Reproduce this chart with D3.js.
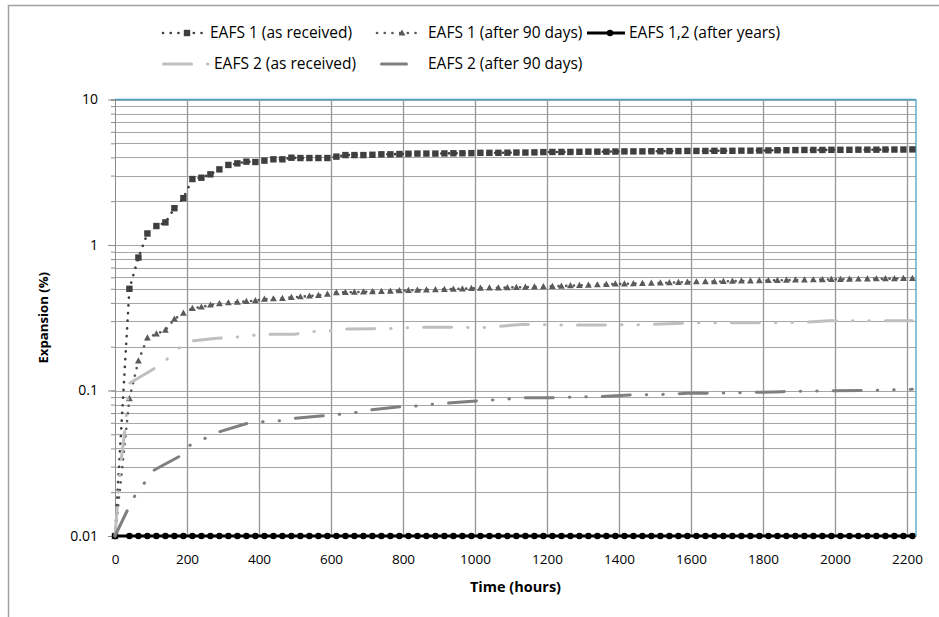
<!DOCTYPE html>
<html><head><meta charset="utf-8">
<script src="https://cdn.jsdelivr.net/npm/d3@7"></script>
<style>
body{margin:0;background:#fff}
svg{display:block}
text{font-family:"Open Sans",Lato,sans-serif;fill:#000}
</style>
</head><body>
<svg id="c" width="939" height="617"></svg>
<script>
// ---------------- DATA ----------------
const seriesNames = ["EAFS 1 (as received)", "EAFS 1 (after 90 days)", "EAFS 1,2 (after years)", "EAFS 2 (as received)", "EAFS 2 (after 90 days)"];
const xAxisTitle = "Time (hours)";
const yAxisTitle = "Expansion (%)";
const xTickValues = [0, 200, 400, 600, 800, 1000, 1200, 1400, 1600, 1800, 2000, 2200];
const xTickLabels = ["0", "200", "400", "600", "800", "1000", "1200", "1400", "1600", "1800", "2000", "2200"];
const yTickValues = [0.01, 0.1, 1, 10];
const yTickLabels = ["0.01", "0.1", "1", "10"];

// measurement times (hours) for the marked series
const hours = [0, 40, 65, 90, 115, 140, 165, 190, 215, 240, 265, 290, 315, 340, 365, 390, 415, 440, 465, 490, 515, 540, 565, 590, 615, 640,
  665, 690, 715, 740, 765, 790, 815, 840, 865, 890, 915, 940, 965, 990, 1015, 1040, 1065, 1090, 1115, 1140, 1165, 1190, 1215, 1240,
  1265, 1290, 1315, 1340, 1365, 1390, 1415, 1440, 1465, 1490, 1515, 1540, 1565, 1590, 1615, 1640, 1665, 1690, 1715, 1740, 1765, 1790,
  1815, 1840, 1865, 1890, 1915, 1940, 1965, 1990, 2015, 2040, 2065, 2090, 2115, 2140, 2165, 2190, 2215];

const eafs1AsReceived = [0.01, 0.5, 0.82, 1.2, 1.35, 1.43, 1.79, 2.1, 2.84, 2.9, 3.06, 3.31, 3.55, 3.64, 3.74, 3.72, 3.8, 3.88, 3.88, 3.98, 3.96, 3.96, 3.96, 3.96, 4.05, 4.15,
  4.15, 4.15, 4.17, 4.2, 4.2, 4.22, 4.24, 4.25, 4.25, 4.25, 4.26, 4.27, 4.27, 4.28, 4.3, 4.3, 4.3, 4.31, 4.32, 4.32, 4.33, 4.35, 4.36, 4.36,
  4.36, 4.37, 4.38, 4.38, 4.38, 4.39, 4.4, 4.4, 4.4, 4.41, 4.41, 4.42, 4.42, 4.43, 4.43, 4.43, 4.44, 4.44, 4.44, 4.45, 4.45, 4.46,
  4.47, 4.48, 4.48, 4.49, 4.5, 4.5, 4.5, 4.51, 4.51, 4.51, 4.52, 4.52, 4.52, 4.53, 4.53, 4.53, 4.54];

const eafs1After90 = [0.01, 0.088, 0.16, 0.23, 0.245, 0.26, 0.31, 0.34, 0.367, 0.375, 0.387, 0.395, 0.401, 0.405, 0.41, 0.415, 0.424, 0.427, 0.43, 0.436, 0.441, 0.446, 0.451, 0.46, 0.47, 0.473,
  0.474, 0.476, 0.478, 0.48, 0.482, 0.485, 0.488, 0.49, 0.492, 0.494, 0.496, 0.498, 0.5, 0.503, 0.506, 0.507, 0.508, 0.51, 0.512, 0.514, 0.516, 0.518, 0.52, 0.522,
  0.525, 0.528, 0.53, 0.533, 0.536, 0.54, 0.541, 0.543, 0.545, 0.547, 0.549, 0.551, 0.553, 0.556, 0.559, 0.56, 0.561, 0.562, 0.564, 0.566, 0.567, 0.569,
  0.57, 0.572, 0.573, 0.575, 0.576, 0.577, 0.578, 0.58, 0.581, 0.582, 0.584, 0.585, 0.586, 0.587, 0.588, 0.589, 0.59];

const eafsAfterYears = [0.01, 0.01, 0.01, 0.01, 0.01, 0.01, 0.01, 0.01, 0.01, 0.01, 0.01, 0.01, 0.01, 0.01, 0.01, 0.01, 0.01, 0.01, 0.01, 0.01, 0.01, 0.01, 0.01, 0.01, 0.01, 0.01,
  0.01, 0.01, 0.01, 0.01, 0.01, 0.01, 0.01, 0.01, 0.01, 0.01, 0.01, 0.01, 0.01, 0.01, 0.01, 0.01, 0.01, 0.01, 0.01, 0.01, 0.01, 0.01, 0.01, 0.01,
  0.01, 0.01, 0.01, 0.01, 0.01, 0.01, 0.01, 0.01, 0.01, 0.01, 0.01, 0.01, 0.01, 0.01, 0.01, 0.01, 0.01, 0.01, 0.01, 0.01, 0.01, 0.01,
  0.01, 0.01, 0.01, 0.01, 0.01, 0.01, 0.01, 0.01, 0.01, 0.01, 0.01, 0.01, 0.01, 0.01, 0.01, 0.01, 0.01];

const eafs2AsReceivedHours = [0, 15, 28, 40, 110, 140, 172, 209, 276, 330, 380, 420, 500, 545, 585, 632, 760, 842, 925, 1015, 1058, 1137, 1225, 1350, 1450, 1604, 1700, 1906, 1984, 2215];
const eafs2AsReceived = [0.01, 0.03, 0.055, 0.112, 0.142, 0.16, 0.192, 0.219, 0.228, 0.232, 0.239, 0.244, 0.244, 0.254, 0.254, 0.265, 0.266, 0.272, 0.272, 0.27, 0.275, 0.285, 0.282, 0.282, 0.283, 0.292, 0.292, 0.293, 0.302, 0.302];

const eafs2After90Hours = [0, 37, 56, 83, 109, 181, 209, 250, 290, 368, 412, 456, 498, 581, 623, 667, 708, 794, 834, 878, 919, 1003, 1091, 1132, 1216, 1304, 1345, 1428, 1500, 1590, 1700, 1771, 1854, 1984, 2100, 2215];
const eafs2After90 = [0.01, 0.0155, 0.0191, 0.0234, 0.0284, 0.0355, 0.0422, 0.0469, 0.0521, 0.0595, 0.061, 0.062, 0.0644, 0.0671, 0.0686, 0.0704, 0.0734, 0.0774, 0.0782, 0.0804, 0.0817, 0.0847, 0.0874, 0.0892, 0.0892, 0.0906, 0.0906, 0.0931, 0.0935, 0.0957, 0.096, 0.097, 0.0982, 0.0997, 0.1, 0.1019];

// ---------------- LAYOUT ----------------
const svg = d3.select("#c");
const P = {left: 115, right: 916, top: 99.5, bottom: 536};
const x = d3.scaleLinear().domain([0, 2225]).range([P.left, P.right]);
const y = d3.scaleLog().domain([0.01, 10]).range([P.bottom, P.top]);

// outer chart border
svg.append("rect").attr("x", 8.5).attr("y", 5.5).attr("width", 1200).attr("height", 1200)
  .attr("fill", "none").attr("stroke", "#a0a0a0").attr("stroke-width", 1.5);

// gridlines
const gridG = svg.append("g");
gridG.selectAll("line.h").data(y.ticks()).join("line")
  .attr("x1", P.left).attr("x2", P.right)
  .attr("y1", d => Math.round(y(d)) + 0.5).attr("y2", d => Math.round(y(d)) + 0.5)
  .attr("stroke", "#a6a6a6").attr("stroke-width", 1);
gridG.selectAll("line.v").data(xTickValues.filter(d => d > 0)).join("line")
  .attr("x1", d => Math.round(x(d)) + 0.5).attr("x2", d => Math.round(x(d)) + 0.5)
  .attr("y1", P.top).attr("y2", P.bottom)
  .attr("stroke", "#969696").attr("stroke-width", 1.3);

// plot border top / right (teal)
svg.append("line").attr("x1", P.left).attr("x2", P.right).attr("y1", P.top).attr("y2", P.top)
  .attr("stroke", "#4aa3c3").attr("stroke-width", 1.3);
svg.append("line").attr("x1", P.right).attr("x2", P.right).attr("y1", P.top).attr("y2", P.bottom)
  .attr("stroke", "#4aa3c3").attr("stroke-width", 1.3);

// y axis: minor ticks
const yMinor = svg.append("g").attr("transform", `translate(${P.left},0)`)
  .call(d3.axisLeft(y).tickValues(y.ticks()).tickSize(4).tickFormat(""));
yMinor.select(".domain").attr("stroke", "#8c8c8c");
yMinor.selectAll(".tick line").attr("stroke", "#8c8c8c");
// y axis: major ticks with labels
const yMajor = svg.append("g").attr("transform", `translate(${P.left},0)`)
  .call(d3.axisLeft(y).tickValues(yTickValues).tickSize(7).tickPadding(10)
    .tickFormat((d, i) => yTickLabels[i]));
yMajor.select(".domain").remove();
yMajor.selectAll(".tick line").attr("stroke", "#8c8c8c");
yMajor.selectAll("text").attr("font-size", 14).attr("font-family", "Open Sans").attr("fill", "#222");

// x axis
const xAx = svg.append("g").attr("transform", `translate(0,${P.bottom})`)
  .call(d3.axisBottom(x).tickValues(xTickValues).tickSize(0).tickPadding(18)
    .tickFormat((d, i) => xTickLabels[i]));
xAx.select(".domain").attr("stroke", "#8c8c8c");
xAx.selectAll("text").attr("font-size", 13.5).attr("font-family", "Open Sans").attr("fill", "#222");

// axis titles
svg.append("text").attr("x", (P.left + P.right) / 2).attr("y", 592)
  .attr("text-anchor", "middle").attr("font-weight", "bold").attr("font-size", 14.5).text(xAxisTitle);
svg.append("text").attr("transform", `translate(48,${(P.top + P.bottom) / 2}) rotate(-90)`)
  .attr("text-anchor", "middle").attr("font-weight", "bold").attr("font-size", 13.2).text(yAxisTitle);

// ---------------- SERIES ----------------
const line = d3.line().x(d => x(d[0])).y(d => y(d[1]));
const zip = (t, v) => t.map((d, i) => [d, v[i]]);

const styles = [
  {color: "#3f3f3f", width: 2.6, dash: "0.1 7.6", cap: "round", marker: "square"},
  {color: "#5a5a5a", width: 2.6, dash: "0.1 7.6", cap: "round", marker: "triangle"},
  {color: "#000000", width: 3, dash: null, cap: "butt", marker: "circle"},
  {color: "#bfbfbf", width: 3, dash: "28 16 0.5 16 0.5 16", cap: "round", marker: null},
  {color: "#7f7f7f", width: 3, dash: "28 16 0.5 16 0.5 16", cap: "round", marker: null}
];
const seriesData = [
  zip(hours, eafs1AsReceived),
  zip(hours, eafs1After90),
  zip(hours, eafsAfterYears),
  zip(eafs2AsReceivedHours, eafs2AsReceived),
  zip(eafs2After90Hours, eafs2After90)
];

function drawMarker(g, type, cx, cy, color) {
  if (type === "square") {
    g.append("rect").attr("x", cx - 3.2).attr("y", cy - 3.2).attr("width", 6.4).attr("height", 6.4).attr("fill", color);
  } else if (type === "triangle") {
    g.append("path").attr("d", `M${cx},${cy - 3.6}L${cx + 3.4},${cy + 2.6}L${cx - 3.4},${cy + 2.6}Z`).attr("fill", color);
  } else if (type === "circle") {
    g.append("circle").attr("cx", cx).attr("cy", cy).attr("r", 3.2).attr("fill", color);
  }
}

const seriesG = svg.append("g");
seriesData.forEach((data, i) => {
  const s = styles[i];
  const g = seriesG.append("g");
  g.append("path").attr("d", line(data)).attr("fill", "none")
    .attr("stroke", s.color).attr("stroke-width", s.width)
    .attr("stroke-dasharray", s.dash).attr("stroke-linecap", s.cap).attr("stroke-linejoin", "round");
  if (s.marker) data.forEach(d => drawMarker(g, s.marker, x(d[0]), y(d[1]), s.color));
});

// ---------------- LEGEND ----------------
const legendItems = [
  {x0: 163, x1: 203, mk: 187, tx: 210, ty: 33},
  {x0: 377, x1: 417, mk: 402, tx: 428, ty: 33},
  {x0: 587, x1: 625, mk: 610, tx: 629, ty: 33},
  {x0: 163.5, x1: 208.5, mk: null, tx: 214, ty: 64},
  {x0: 381.5, x1: 406.5, mk: null, tx: 428, ty: 64}
];
const legG = svg.append("g");
legendItems.forEach((L, i) => {
  const s = styles[i];
  legG.append("line").attr("x1", L.x0).attr("x2", L.x1).attr("y1", L.ty).attr("y2", L.ty)
    .attr("stroke", s.color).attr("stroke-width", s.width)
    .attr("stroke-dasharray", s.dash).attr("stroke-linecap", s.cap);
  if (L.mk !== null && s.marker) drawMarker(legG, s.marker, L.mk, L.ty, s.color);
  legG.append("text").attr("x", L.tx).attr("y", L.ty).attr("dy", "0.35em")
    .attr("font-size", 15.5).attr("fill", "#111").text(seriesNames[i]);
});
</script>
</body></html>
